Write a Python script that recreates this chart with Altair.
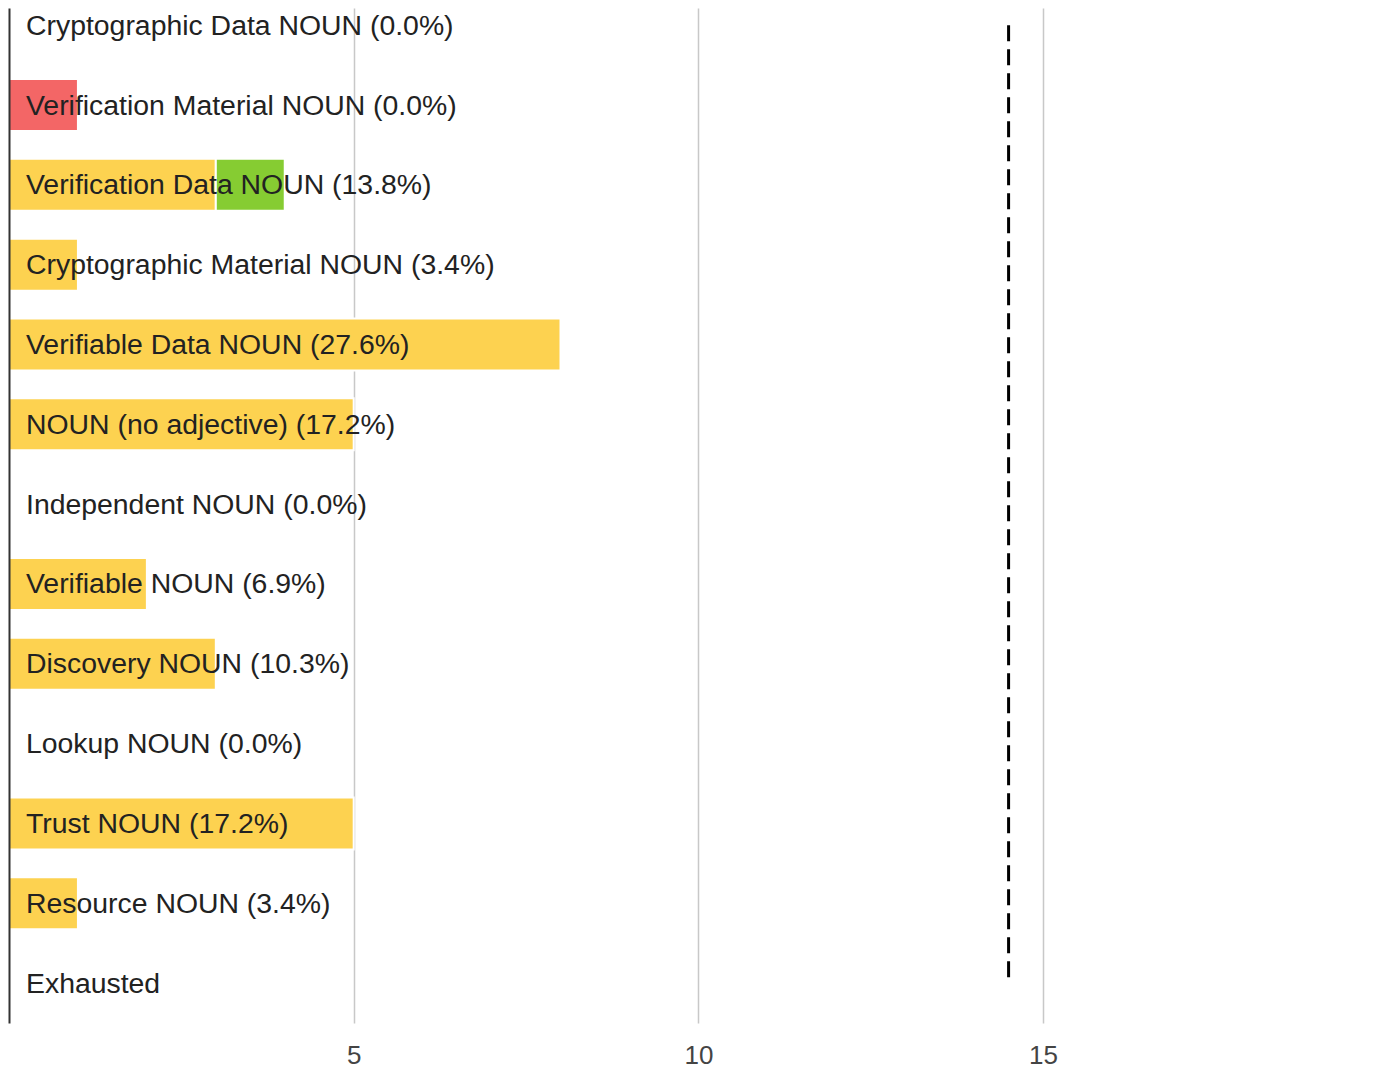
import altair as alt
import pandas as pd

# ---- data ----
categories = [
    "Cryptographic Data NOUN (0.0%)",
    "Verification Material NOUN (0.0%)",
    "Verification Data NOUN (13.8%)",
    "Cryptographic Material NOUN (3.4%)",
    "Verifiable Data NOUN (27.6%)",
    "NOUN (no adjective) (17.2%)",
    "Independent NOUN (0.0%)",
    "Verifiable NOUN (6.9%)",
    "Discovery NOUN (10.3%)",
    "Lookup NOUN (0.0%)",
    "Trust NOUN (17.2%)",
    "Resource NOUN (3.4%)",
    "Exhausted",
]
first_round = [0, 0, 3, 1, 8, 5, 0, 2, 3, 0, 5, 1, 0]
eliminated = [0, 1, 0, 0, 0, 0, 0, 0, 0, 0, 0, 0, 0]
transferred = [0, 0, 1, 0, 0, 0, 0, 0, 0, 0, 0, 0, 0]
threshold = 14.5
tick_values = [5, 10, 15]

series_names = ["Votes", "Eliminated", "Transferred"]
series_colors = ["#FDD250", "#F36666", "#86CC32"]

# ---- build tables ----
half = 0.326
bar_rows = []
for i, cat in enumerate(categories):
    start = 0
    for name, vals in zip(series_names, [first_round, eliminated, transferred]):
        v = vals[i]
        if v > 0:
            bar_rows.append({"row": i, "y0": i - half, "y1": i + half,
                             "x0": start, "x1": start + v, "series": name})
            start += v
bars_df = pd.DataFrame(bar_rows)
labels_df = pd.DataFrame({"row": list(range(len(categories))), "label": categories})
rule_df = pd.DataFrame({"x": [threshold], "ys": [0], "ye": [len(categories) - 1]})

FONT = "Liberation Sans"

xscale = alt.Scale(domain=[0, 19.67], nice=False, zero=False)
yscale = alt.Scale(domain=[-0.2155, 12.5], reverse=True, nice=False, zero=False)

bars = alt.Chart(bars_df).mark_rect(stroke="white", strokeWidth=2).encode(
    x=alt.X("x0:Q", scale=xscale,
            axis=alt.Axis(values=tick_values, format="d", grid=True, gridColor="#c8c8c8",
                          gridWidth=1.5, domain=False, ticks=False,
                          labelFontSize=26, labelColor="#444", labelFont=FONT,
                          labelPadding=19, title=None)),
    x2="x1:Q",
    y=alt.Y("y0:Q", scale=yscale,
            axis=alt.Axis(labels=False, ticks=False, grid=False, domain=True,
                          domainColor="#333", domainWidth=2, title=None, zindex=1)),
    y2="y1:Q",
    color=alt.Color("series:N", scale=alt.Scale(domain=series_names, range=series_colors),
                    legend=None),
)

texts = alt.Chart(labels_df).mark_text(
    align="left", baseline="middle", fontSize=28.4, font=FONT, color="#222", dy=0.5
).encode(
    x=alt.value(17),
    y=alt.Y("row:Q", scale=yscale),
    text="label:N",
)

rule = alt.Chart(rule_df).mark_rule(
    strokeDash=[16, 8], strokeWidth=3, color="black"
).encode(
    x=alt.X("x:Q", scale=xscale),
    y=alt.Y("ys:Q", scale=yscale),
    y2="ye:Q",
)

chart = alt.layer(bars, texts, rule).properties(
    width=1356, height=1015, padding=0, background="white"
).configure_view(stroke=None)

chart.save("out.html", embed_options={"renderer": "svg", "actions": False})
